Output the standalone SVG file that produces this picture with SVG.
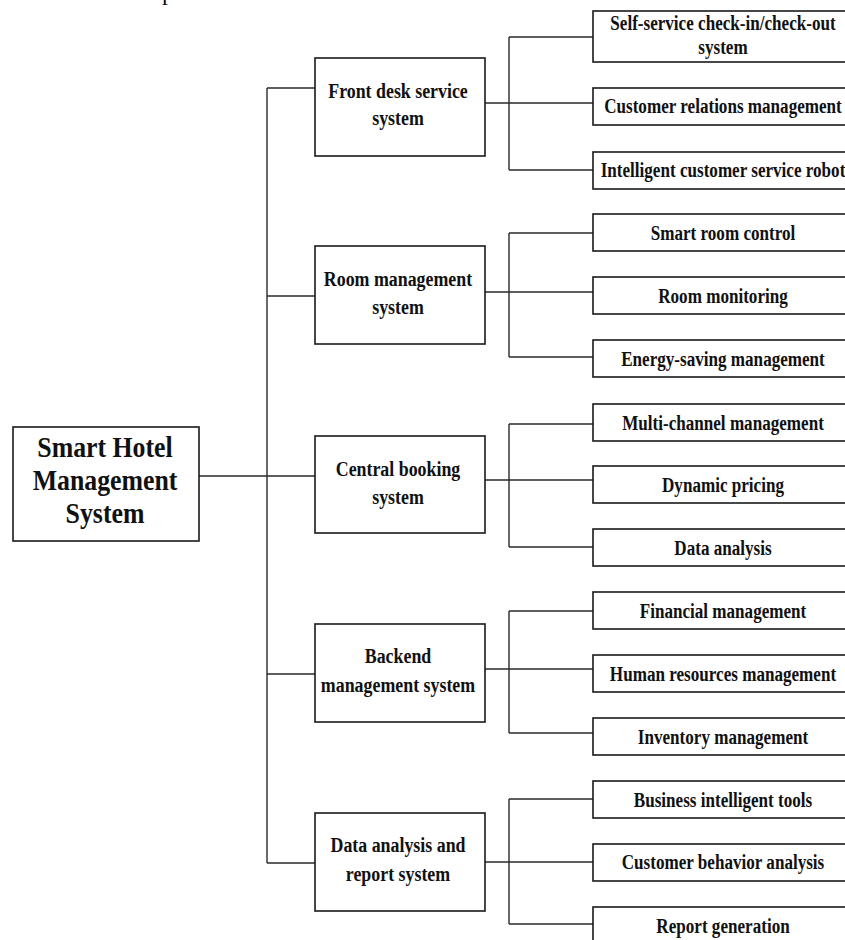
<svg xmlns="http://www.w3.org/2000/svg" width="845" height="940" viewBox="0 0 845 940">
<style>
.box{fill:#fff;stroke:#1a1a1a;stroke-width:1.6}
.ln{fill:none;stroke:#2a2a2a;stroke-width:1.4}
text{font-family:"Liberation Serif","Times New Roman",serif;font-weight:bold;fill:#111;text-anchor:middle}
.root{font-size:29px}
.mid{font-size:20.5px}
.sub{font-size:20px}
</style>
<rect width="845" height="940" fill="#fff"/>
<text x="168" y="0" style="font-size:24px;font-weight:normal">p</text>
<g id="connectors">
<path class="ln" d="M199,476H315 M267,88V863 M267,88H315 M267,296H315 M267,674H315 M267,863H315"/>
<path class="ln" d="M485,103H593 M509,37V170 M509,37H593 M509,170H593"/>
<path class="ln" d="M485,292H593 M509,233V357 M509,233H593 M509,357H593"/>
<path class="ln" d="M485,480H593 M509,424V547 M509,424H593 M509,547H593"/>
<path class="ln" d="M485,669H593 M509,611V733 M509,611H593 M509,733H593"/>
<path class="ln" d="M485,862H593 M509,799V924 M509,799H593 M509,924H593"/>
</g>
<g id="root">
<rect class="box" x="13" y="427" width="186" height="114"/>
<text class="root" transform="translate(105,457) scale(0.89,1)">Smart Hotel</text>
<text class="root" transform="translate(105,490) scale(0.89,1)">Management</text>
<text class="root" transform="translate(105,523) scale(0.89,1)">System</text>
</g>
<g id="front-desk">
<rect class="box" x="315" y="58" width="170" height="98"/>
<text class="mid" transform="translate(398,98) scale(0.872,1)">Front desk service</text>
<text class="mid" transform="translate(398,125) scale(0.872,1)">system</text>
</g>
<g id="room-mgmt">
<rect class="box" x="315" y="246" width="170" height="98"/>
<text class="mid" transform="translate(398,286) scale(0.872,1)">Room management</text>
<text class="mid" transform="translate(398,314) scale(0.872,1)">system</text>
</g>
<g id="central-booking">
<rect class="box" x="315" y="436" width="170" height="97"/>
<text class="mid" transform="translate(398,476) scale(0.872,1)">Central booking</text>
<text class="mid" transform="translate(398,504) scale(0.872,1)">system</text>
</g>
<g id="backend">
<rect class="box" x="315" y="624" width="170" height="98"/>
<text class="mid" transform="translate(398,663) scale(0.872,1)">Backend</text>
<text class="mid" transform="translate(398,692) scale(0.872,1)">management system</text>
</g>
<g id="data-report">
<rect class="box" x="315" y="813" width="170" height="98"/>
<text class="mid" transform="translate(398,852) scale(0.872,1)">Data analysis and</text>
<text class="mid" transform="translate(398,881) scale(0.872,1)">report system</text>
</g>
<g id="self-service">
<rect class="box" x="593" y="11" width="262" height="51"/>
<text class="sub" transform="translate(723,30) scale(0.855,1)">Self-service check-in/check-out</text>
<text class="sub" transform="translate(723,54) scale(0.855,1)">system</text>
</g>
<g id="crm">
<rect class="box" x="593" y="88" width="262" height="37"/>
<text class="sub" transform="translate(723,113) scale(0.855,1)">Customer relations management</text>
</g>
<g id="robot">
<rect class="box" x="593" y="152" width="262" height="37"/>
<text class="sub" transform="translate(723,177) scale(0.855,1)">Intelligent customer service robot</text>
</g>
<g id="smart-room">
<rect class="box" x="593" y="214" width="262" height="37"/>
<text class="sub" transform="translate(723,240) scale(0.855,1)">Smart room control</text>
</g>
<g id="room-monitoring">
<rect class="box" x="593" y="277" width="262" height="37"/>
<text class="sub" transform="translate(723,303) scale(0.855,1)">Room monitoring</text>
</g>
<g id="energy">
<rect class="box" x="593" y="340" width="262" height="37"/>
<text class="sub" transform="translate(723,366) scale(0.855,1)">Energy-saving management</text>
</g>
<g id="multi-channel">
<rect class="box" x="593" y="404" width="262" height="37"/>
<text class="sub" transform="translate(723,430) scale(0.855,1)">Multi-channel management</text>
</g>
<g id="pricing">
<rect class="box" x="593" y="466" width="262" height="37"/>
<text class="sub" transform="translate(723,492) scale(0.855,1)">Dynamic pricing</text>
</g>
<g id="data-analysis">
<rect class="box" x="593" y="529" width="262" height="37"/>
<text class="sub" transform="translate(723,555) scale(0.855,1)">Data analysis</text>
</g>
<g id="financial">
<rect class="box" x="593" y="592" width="262" height="37"/>
<text class="sub" transform="translate(723,618) scale(0.855,1)">Financial management</text>
</g>
<g id="hr">
<rect class="box" x="593" y="655" width="262" height="37"/>
<text class="sub" transform="translate(723,681) scale(0.855,1)">Human resources management</text>
</g>
<g id="inventory">
<rect class="box" x="593" y="718" width="262" height="37"/>
<text class="sub" transform="translate(723,744) scale(0.855,1)">Inventory management</text>
</g>
<g id="bi-tools">
<rect class="box" x="593" y="781" width="262" height="37"/>
<text class="sub" transform="translate(723,807) scale(0.855,1)">Business intelligent tools</text>
</g>
<g id="behavior">
<rect class="box" x="593" y="844" width="262" height="37"/>
<text class="sub" transform="translate(723,869) scale(0.855,1)">Customer behavior analysis</text>
</g>
<g id="report-gen">
<rect class="box" x="593" y="907" width="262" height="37"/>
<text class="sub" transform="translate(723,933) scale(0.855,1)">Report generation</text>
</g>
</svg>
